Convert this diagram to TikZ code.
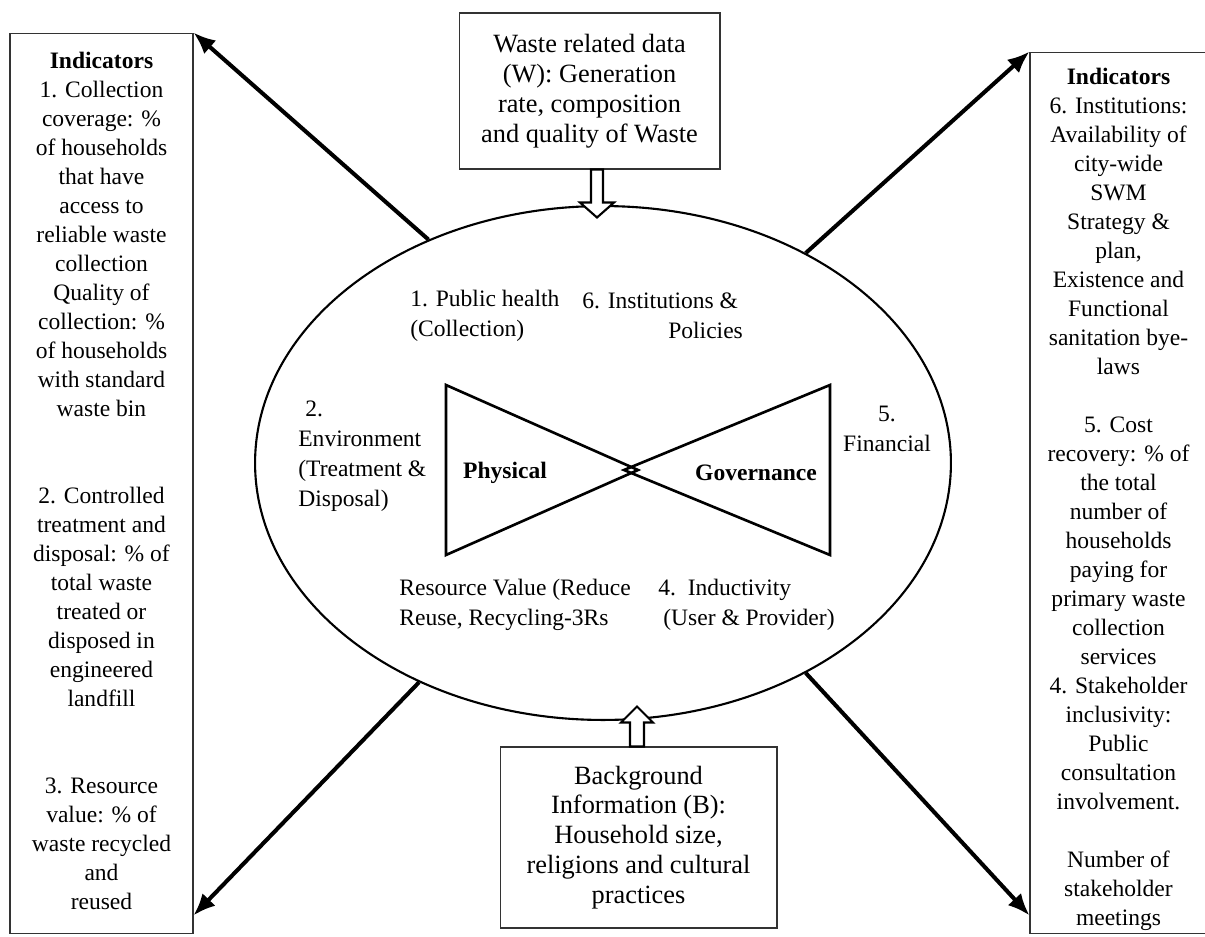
\documentclass[tikz,border=0pt]{standalone}
\usepackage{fontspec}
\setmainfont{Liberation Serif}
\usetikzlibrary{positioning,arrows.meta,shapes.geometric,calc}
\tikzset{
  framebox/.style={
    draw=black!80,
    line width=0.6pt,
    inner sep=0pt
  },
  databox/.style={
    draw=black!80,
    line width=0.6pt,
    inner sep=0pt,
    align=center,
    font=\fontsize{15}{17}\selectfont
  },
  indtext/.style={
    inner sep=0pt,
    align=center,
    font=\fontsize{13.4}{16.5}\selectfont
  },
  inlabel/.style={
    inner sep=0pt,
    align=left,
    font=\fontsize{13.4}{17}\selectfont
  },
  bowlabel/.style={inner sep=0pt,font=\fontsize{13.4}{16}\selectfont\bfseries},
  bigarrow/.style={-{Latex[length=0.44cm,width=0.36cm]},line width=2.3pt},
  hollow/.style={draw,fill=white,line width=1.2pt,line join=miter}
}
\begin{document}
\begin{tikzpicture}[x=0.02cm,y=-0.02cm]
    \useasboundingbox (0,0) rectangle (1205,937);
    \clip (0,0) rectangle (1205,937);
    % core
    \node[draw,ellipse,line width=1.2pt,minimum width=13.92cm,minimum height=10.28cm,inner sep=0pt] (core) at (603,463) {};
    \draw[line width=1.5pt,line join=miter] (446,385) -- (446,555) -- (638,470) -- cycle;
    \draw[line width=1.5pt,line join=miter] (830,385) -- (830,555) -- (624,470) -- cycle;
    \node[bowlabel] (phys) at (505,473) {Physical};
    \node[bowlabel] (gov) at (756,473) {Governance};
    \node[inlabel,anchor=west] (health) at (410,316) {1. Public health\\(Collection)};
    \node[inlabel,anchor=west] (inst) at (582,316) {6. Institutions \&\\\hspace*{1.72cm}Policies};
    \node[inlabel,anchor=west] (env) at (298,456) {\hspace*{0.14cm}2.\\Environment\\(Treatment \&\\Disposal)};
    \node[inlabel,align=center] (fin) at (887,429) {5.\\Financial};
    \node[inlabel,anchor=west] (res) at (399,605) {Resource Value (Reduce\\Reuse, Recycling-3Rs};
    \node[inlabel,anchor=west] (induct) at (658,605) {4.\ \ Inductivity\\\hspace*{0.1cm}(User \& Provider)};
    % data boxes
    \node[databox,minimum width=5.22cm,minimum height=3.12cm] (wdata) at (589.5,91) {Waste related data\\(W): Generation\\rate, composition\\and quality of Waste};
    \node[databox,minimum width=5.54cm,minimum height=3.62cm] (bdata) at (638.5,837.5) {Background\\Information (B):\\Household size,\\religions and cultural\\practices};
    \draw[hollow] ($(wdata.south)+(1.5,0)$) -- ++(0,33) -- ++(-11,0) -- ++(17,15) -- ++(17,-15) -- ++(-11,0) -- ++(0,-33) -- cycle;
    \draw[hollow] ($(bdata.north)+(-8.5,0)$) -- ++(0,-24) -- ++(-9,0) -- ++(16,-16) -- ++(16,16) -- ++(-9,0) -- ++(0,24) -- cycle;
    % indicator boxes
    \node[framebox,minimum width=3.66cm,minimum height=18.02cm] (lframe) at (101.5,483.5) {};
    \node[framebox,minimum width=3.54cm,minimum height=17.64cm] (rframe) at (1118.5,493) {};
    \node[indtext,anchor=north] (ltext) at (101.5,52) {\textbf{Indicators}\\1. Collection\\coverage: \%\\of households\\that have\\access to\\reliable waste\\collection\\Quality of\\collection: \%\\of households\\with standard\\waste bin\\[33pt]2. Controlled\\treatment and\\disposal: \% of\\total waste\\treated or\\disposed in\\engineered\\landfill\\[33pt]3. Resource\\value: \% of\\waste recycled\\and\\reused};
    \node[indtext,anchor=north] (rtext) at (1118.5,68) {\textbf{Indicators}\\6. Institutions:\\Availability of\\city-wide\\SWM\\Strategy \&\\plan,\\Existence and\\Functional\\sanitation bye-\\laws\\[16.5pt]5. Cost\\recovery: \% of\\the total\\number of\\households\\paying for\\primary waste\\collection\\services\\4. Stakeholder\\inclusivity:\\Public\\consultation\\involvement.\\[16.5pt]Number of\\stakeholder\\meetings};
    % arrows
    \draw[bigarrow] (core.128) -- (lframe.north east);
    \draw[bigarrow] (core.230) -- ($(lframe.south east)+(0,-19)$);
    \draw[bigarrow] (core.46) -- (rframe.north west);
    \draw[bigarrow] (core.314) -- ($(rframe.south west)+(0,-19)$);
\end{tikzpicture}
\end{document}
